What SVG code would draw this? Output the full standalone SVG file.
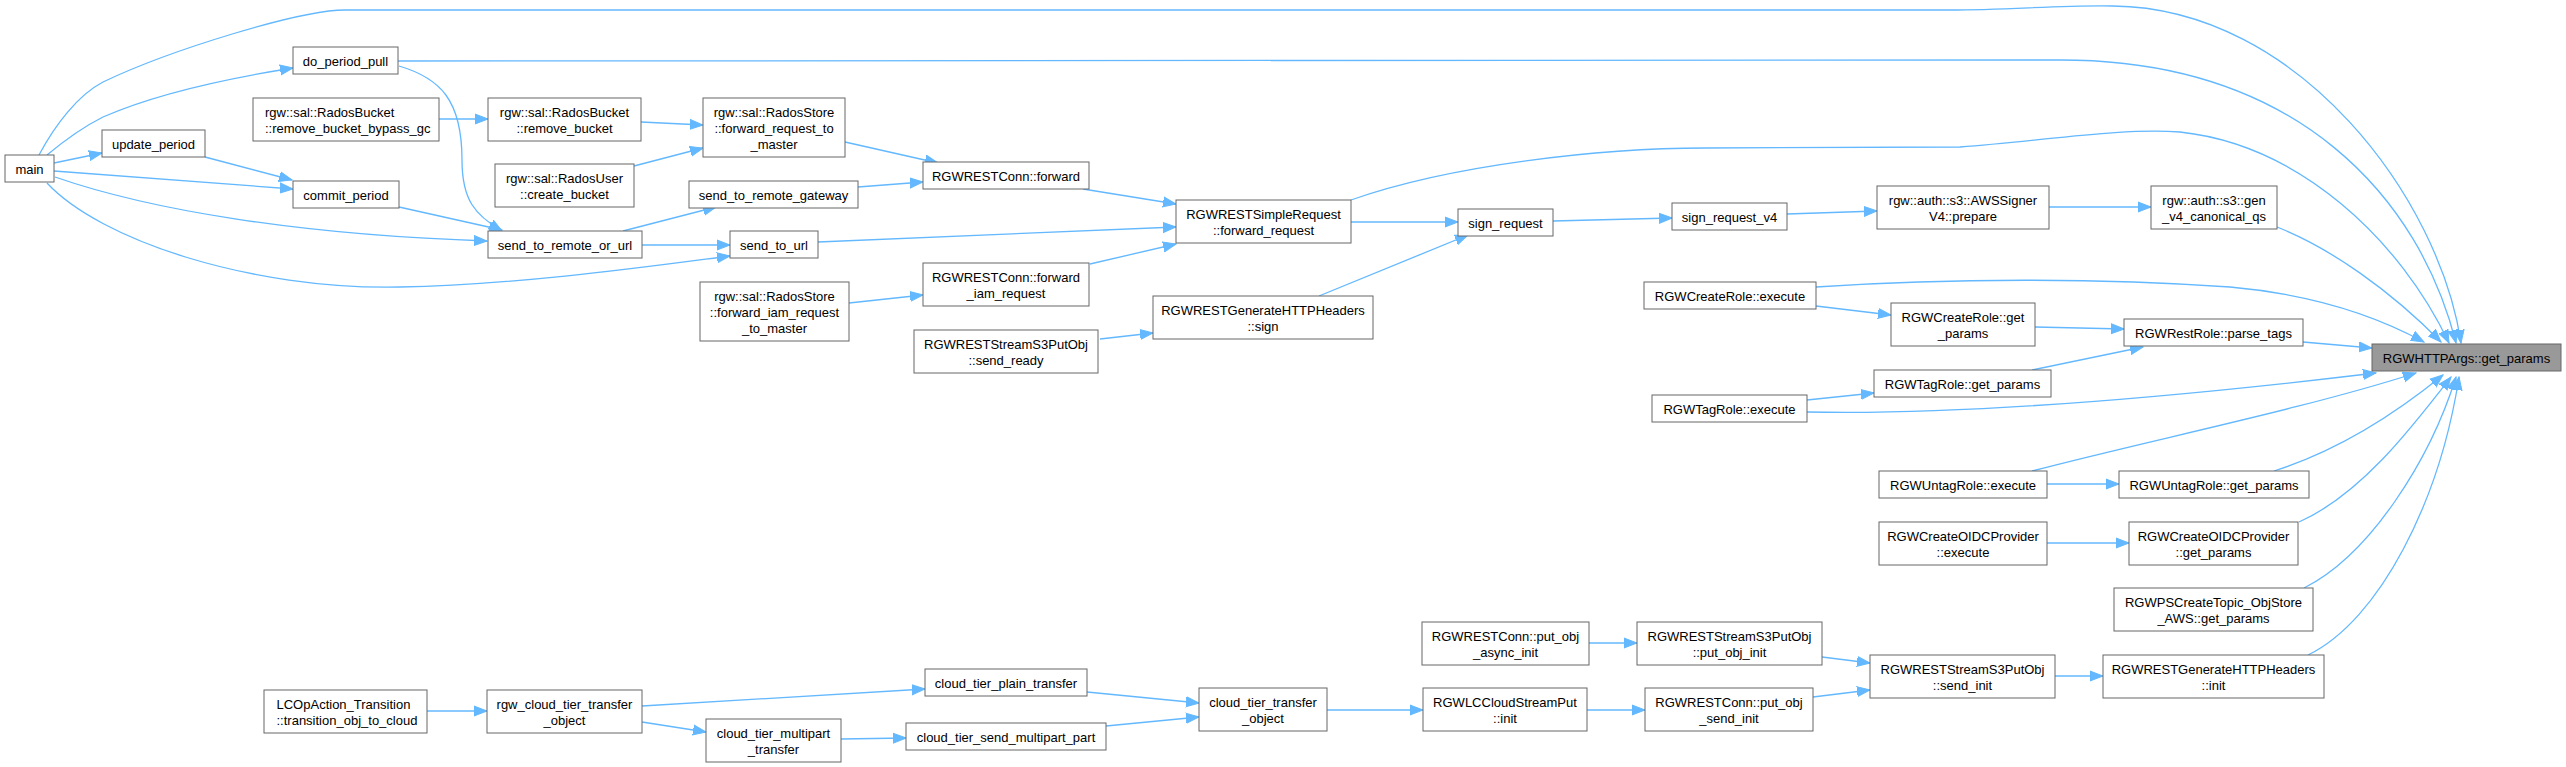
<svg xmlns="http://www.w3.org/2000/svg" width="2566" height="767" viewBox="0 0 2566 767">
<style>
.n rect{fill:#fff;stroke:#666;stroke-width:1}
.n.hl rect{fill:#999}
.n text{font-family:"Liberation Sans",Arial,sans-serif;font-size:13px;fill:#000;text-anchor:middle}
.n text.l{text-anchor:start}
.e path{fill:none;stroke:#63b8ff;stroke-width:1.3;marker-end:url(#ah)}
</style>
<defs>
<marker id="ah" markerUnits="userSpaceOnUse" markerWidth="14" markerHeight="12" refX="13" refY="6" orient="auto">
<path d="M0,1 L13,6 L0,11 z" fill="#63b8ff" stroke="#63b8ff" stroke-width="1"/>
</marker>
</defs>
<rect width="2566" height="767" fill="#fff"/>
<g id="connectors" class="e">
<path d="M39,155 C55,125 78,95 103,82 C170,50 300,10 345,10 L1950,10 C2010,10 2060,5 2113,6 C2300,8 2440,200 2461,343"/>
<path d="M47,155 C65,140 85,126 103,117 C160,92 230,78 293,68"/>
<path d="M54,163 L102,153"/>
<path d="M54,171 L293,189"/>
<path d="M55,177 C150,210 300,235 487,241"/>
<path d="M47,183 C100,240 250,290 400,287 C520,285 660,265 730,256"/>
<path d="M398,61 L2060,60 C2300,60 2420,200 2456,343"/>
<path d="M399,66 C440,78 462,100 462,160 C462,200 475,215 502,231"/>
<path d="M205,157 L292,180"/>
<path d="M399,207 L502,230"/>
<path d="M439,119 L488,119"/>
<path d="M641,122 L703,125"/>
<path d="M634,166 L703,148"/>
<path d="M845,142 L938,163"/>
<path d="M623,231 L716,207"/>
<path d="M642,245 L730,245"/>
<path d="M858,187 L923,182"/>
<path d="M818,242 L1176,227"/>
<path d="M849,303 L923,295"/>
<path d="M1083,189 L1176,204"/>
<path d="M1090,264 L1176,244"/>
<path d="M1351,200 C1450,165 1600,148 1706,148 L1960,147 C2050,140 2120,128 2180,132 C2300,145 2400,240 2449,343"/>
<path d="M1351,222 L1458,222"/>
<path d="M1100,339 L1153,333"/>
<path d="M1319,296 L1468,235"/>
<path d="M1553,221 L1672,218"/>
<path d="M1787,214 L1877,211"/>
<path d="M2049,207 L2151,207"/>
<path d="M2277,227 C2330,248 2390,290 2441,342"/>
<path d="M1816,287 C1950,278 2100,278 2230,287 C2320,295 2380,318 2424,342"/>
<path d="M1816,306 L1891,315"/>
<path d="M2035,327 L2124,329"/>
<path d="M2303,342 L2372,348"/>
<path d="M2032,370 L2143,347"/>
<path d="M1807,400 L1874,393"/>
<path d="M1807,412 C1950,415 2150,400 2376,373"/>
<path d="M2032,471 C2150,440 2300,410 2416,373"/>
<path d="M2047,484 L2119,484"/>
<path d="M2274,471 C2340,450 2400,410 2443,375"/>
<path d="M2047,543 L2129,543"/>
<path d="M2299,522 C2360,495 2410,430 2451,377"/>
<path d="M2304,588 C2370,555 2430,460 2456,377"/>
<path d="M2308,655 C2380,620 2440,500 2459,377"/>
<path d="M2055,676 L2103,676"/>
<path d="M1822,657 L1870,663"/>
<path d="M1813,697 L1870,690"/>
<path d="M1589,643 L1637,643"/>
<path d="M1587,710 L1645,710"/>
<path d="M1327,710 L1423,710"/>
<path d="M1087,692 L1199,703"/>
<path d="M1106,726 L1199,717"/>
<path d="M841,739 L906,738"/>
<path d="M642,706 L925,689"/>
<path d="M642,722 L706,732"/>
<path d="M427,711 L487,711"/>
</g>
<g id="main" class="n"><rect x="5" y="155" width="49" height="27"/><text x="29.5" y="173.5">main</text></g>
<g id="do_period_pull" class="n"><rect x="293" y="47" width="105" height="27"/><text x="345.5" y="65.5">do_period_pull</text></g>
<g id="update_period" class="n"><rect x="102" y="130" width="103" height="27"/><text x="153.5" y="148.5">update_period</text></g>
<g id="commit_period" class="n"><rect x="293" y="181" width="106" height="27"/><text x="346" y="199.5">commit_period</text></g>
<g id="remove_bucket_bypass_gc" class="n"><rect x="253" y="98" width="186" height="43"/><text class="l"><tspan x="265" y="116.5">rgw::sal::RadosBucket</tspan><tspan x="265" y="132.5">::remove_bucket_bypass_gc</tspan></text></g>
<g id="remove_bucket" class="n"><rect x="488" y="98" width="153" height="43"/><text><tspan x="564.5" y="116.5">rgw::sal::RadosBucket</tspan><tspan x="564.5" y="132.5">::remove_bucket</tspan></text></g>
<g id="forward_request_to_master" class="n"><rect x="703" y="98" width="142" height="59"/><text><tspan x="774" y="116.5">rgw::sal::RadosStore</tspan><tspan x="774" y="132.5">::forward_request_to</tspan><tspan x="774" y="148.5">_master</tspan></text></g>
<g id="create_bucket" class="n"><rect x="495" y="164" width="139" height="43"/><text><tspan x="564.5" y="182.5">rgw::sal::RadosUser</tspan><tspan x="564.5" y="198.5">::create_bucket</tspan></text></g>
<g id="send_to_remote_gateway" class="n"><rect x="689" y="181" width="169" height="27"/><text x="773.5" y="199.5">send_to_remote_gateway</text></g>
<g id="send_to_remote_or_url" class="n"><rect x="488" y="231" width="154" height="27"/><text x="565" y="249.5">send_to_remote_or_url</text></g>
<g id="send_to_url" class="n"><rect x="730" y="231" width="88" height="27"/><text x="774" y="249.5">send_to_url</text></g>
<g id="forward_iam_request_to_master" class="n"><rect x="700" y="282" width="149" height="59"/><text><tspan x="774.5" y="300.5">rgw::sal::RadosStore</tspan><tspan x="774.5" y="316.5">::forward_iam_request</tspan><tspan x="774.5" y="332.5">_to_master</tspan></text></g>
<g id="conn_forward" class="n"><rect x="923" y="162" width="166" height="27"/><text x="1006" y="180.5">RGWRESTConn::forward</text></g>
<g id="simple_forward_request" class="n"><rect x="1176" y="200" width="175" height="43"/><text><tspan x="1263.5" y="218.5">RGWRESTSimpleRequest</tspan><tspan x="1263.5" y="234.5">::forward_request</tspan></text></g>
<g id="sign_request" class="n"><rect x="1458" y="209" width="95" height="27"/><text x="1505.5" y="227.5">sign_request</text></g>
<g id="sign_request_v4" class="n"><rect x="1672" y="203" width="115" height="27"/><text x="1729.5" y="221.5">sign_request_v4</text></g>
<g id="conn_forward_iam" class="n"><rect x="923" y="263" width="166" height="43"/><text><tspan x="1006" y="281.5">RGWRESTConn::forward</tspan><tspan x="1006" y="297.5">_iam_request</tspan></text></g>
<g id="headers_sign" class="n"><rect x="1153" y="296" width="220" height="43"/><text><tspan x="1263" y="314.5">RGWRESTGenerateHTTPHeaders</tspan><tspan x="1263" y="330.5">::sign</tspan></text></g>
<g id="send_ready" class="n"><rect x="914" y="330" width="184" height="43"/><text><tspan x="1006" y="348.5">RGWRESTStreamS3PutObj</tspan><tspan x="1006" y="364.5">::send_ready</tspan></text></g>
<g id="createrole_execute" class="n"><rect x="1644" y="282" width="172" height="27"/><text x="1730" y="300.5">RGWCreateRole::execute</text></g>
<g id="awssigner_prepare" class="n"><rect x="1877" y="186" width="172" height="43"/><text><tspan x="1963" y="204.5">rgw::auth::s3::AWSSigner</tspan><tspan x="1963" y="220.5">V4::prepare</tspan></text></g>
<g id="gen_v4_canonical_qs" class="n"><rect x="2151" y="186" width="126" height="43"/><text><tspan x="2214" y="204.5">rgw::auth::s3::gen</tspan><tspan x="2214" y="220.5">_v4_canonical_qs</tspan></text></g>
<g id="createrole_get_params" class="n"><rect x="1891" y="303" width="144" height="43"/><text><tspan x="1963" y="321.5">RGWCreateRole::get</tspan><tspan x="1963" y="337.5">_params</tspan></text></g>
<g id="parse_tags" class="n"><rect x="2124" y="319" width="179" height="27"/><text x="2213.5" y="337.5">RGWRestRole::parse_tags</text></g>
<g id="httpargs_get_params" class="n hl"><rect x="2372" y="344" width="189" height="27"/><text x="2466.5" y="362.5">RGWHTTPArgs::get_params</text></g>
<g id="tagrole_get_params" class="n"><rect x="1874" y="370" width="177" height="27"/><text x="1962.5" y="388.5">RGWTagRole::get_params</text></g>
<g id="tagrole_execute" class="n"><rect x="1652" y="395" width="155" height="27"/><text x="1729.5" y="413.5">RGWTagRole::execute</text></g>
<g id="untagrole_execute" class="n"><rect x="1879" y="471" width="168" height="27"/><text x="1963" y="489.5">RGWUntagRole::execute</text></g>
<g id="untagrole_get_params" class="n"><rect x="2119" y="471" width="190" height="27"/><text x="2214" y="489.5">RGWUntagRole::get_params</text></g>
<g id="oidc_execute" class="n"><rect x="1879" y="522" width="168" height="43"/><text><tspan x="1963" y="540.5">RGWCreateOIDCProvider</tspan><tspan x="1963" y="556.5">::execute</tspan></text></g>
<g id="oidc_get_params" class="n"><rect x="2129" y="522" width="169" height="43"/><text><tspan x="2213.5" y="540.5">RGWCreateOIDCProvider</tspan><tspan x="2213.5" y="556.5">::get_params</tspan></text></g>
<g id="pscreatetopic_get_params" class="n"><rect x="2114" y="588" width="199" height="43"/><text><tspan x="2213.5" y="606.5">RGWPSCreateTopic_ObjStore</tspan><tspan x="2213.5" y="622.5">_AWS::get_params</tspan></text></g>
<g id="send_init" class="n"><rect x="1870" y="655" width="185" height="43"/><text><tspan x="1962.5" y="673.5">RGWRESTStreamS3PutObj</tspan><tspan x="1962.5" y="689.5">::send_init</tspan></text></g>
<g id="headers_init" class="n"><rect x="2103" y="655" width="221" height="43"/><text><tspan x="2213.5" y="673.5">RGWRESTGenerateHTTPHeaders</tspan><tspan x="2213.5" y="689.5">::init</tspan></text></g>
<g id="put_obj_init" class="n"><rect x="1637" y="622" width="185" height="43"/><text><tspan x="1729.5" y="640.5">RGWRESTStreamS3PutObj</tspan><tspan x="1729.5" y="656.5">::put_obj_init</tspan></text></g>
<g id="put_obj_send_init" class="n"><rect x="1645" y="688" width="168" height="43"/><text><tspan x="1729" y="706.5">RGWRESTConn::put_obj</tspan><tspan x="1729" y="722.5">_send_init</tspan></text></g>
<g id="put_obj_async_init" class="n"><rect x="1422" y="622" width="167" height="43"/><text><tspan x="1505.5" y="640.5">RGWRESTConn::put_obj</tspan><tspan x="1505.5" y="656.5">_async_init</tspan></text></g>
<g id="lccloudstreamput_init" class="n"><rect x="1423" y="688" width="164" height="43"/><text><tspan x="1505" y="706.5">RGWLCCloudStreamPut</tspan><tspan x="1505" y="722.5">::init</tspan></text></g>
<g id="cloud_tier_transfer_object" class="n"><rect x="1199" y="688" width="128" height="43"/><text><tspan x="1263" y="706.5">cloud_tier_transfer</tspan><tspan x="1263" y="722.5">_object</tspan></text></g>
<g id="cloud_tier_plain_transfer" class="n"><rect x="925" y="669" width="162" height="27"/><text x="1006" y="687.5">cloud_tier_plain_transfer</text></g>
<g id="cloud_tier_send_multipart_part" class="n"><rect x="906" y="723" width="200" height="27"/><text x="1006" y="741.5">cloud_tier_send_multipart_part</text></g>
<g id="cloud_tier_multipart_transfer" class="n"><rect x="706" y="719" width="135" height="43"/><text><tspan x="773.5" y="737.5">cloud_tier_multipart</tspan><tspan x="773.5" y="753.5">_transfer</tspan></text></g>
<g id="rgw_cloud_tier_transfer_object" class="n"><rect x="487" y="690" width="155" height="43"/><text><tspan x="564.5" y="708.5">rgw_cloud_tier_transfer</tspan><tspan x="564.5" y="724.5">_object</tspan></text></g>
<g id="transition_obj_to_cloud" class="n"><rect x="264" y="690" width="163" height="43"/><text class="l"><tspan x="276.5" y="708.5">LCOpAction_Transition</tspan><tspan x="276.5" y="724.5">::transition_obj_to_cloud</tspan></text></g>
</svg>
